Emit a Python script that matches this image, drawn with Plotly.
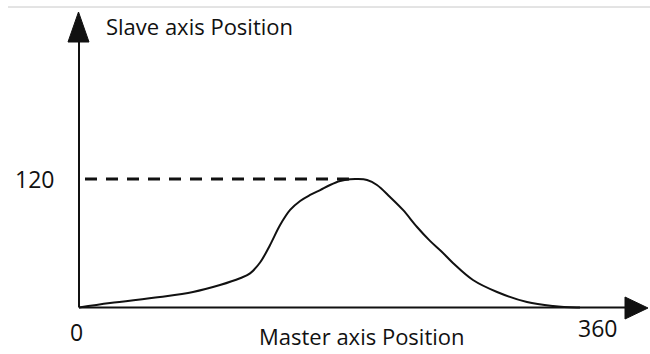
import plotly.graph_objects as go

# Cam profile: slave position against master position (degrees)
master_pos = [0, 22.3, 58.2, 81.9, 101.3, 115.7, 122.9, 130.1, 137.3, 144.5, 151.7,
              158.9, 166.1, 173.3, 180.4, 187.6, 194.8, 200, 207, 214.1, 223.5, 232.8,
              242.9, 252.2, 260.1, 268.7, 283.1, 300.4, 321.9, 340.6, 357.8, 360]
slave_pos = [0, 4.2, 9.8, 14.5, 21.0, 27.3, 31.9, 42.0, 58.4, 77.0, 91.1,
             99.5, 105.1, 109.7, 114.4, 118.1, 119.8, 120, 119, 114.4, 103.2, 91.1,
             75.2, 62.2, 52.8, 41.6, 25.7, 14.5, 5.1, 1.4, 0, 0]

peak_value = 120
peak_master = 200
x_tick_labels = {0: "0", 360: "360"}
y_tick_labels = {120: "120"}
x_title = "Master axis Position"
y_title = "Slave axis Position"

# Canvas geometry (pixels)
W, H = 650, 354
ORIGIN_PX = (79, 307.5)
X_END_PX = 580          # where master = 360 lands
Y_PEAK_PX = 179         # where slave = 120 lands
SX = (X_END_PX - ORIGIN_PX[0]) / 360.0
SY = (ORIGIN_PX[1] - Y_PEAK_PX) / 120.0


def dx(px):
    return (px - ORIGIN_PX[0]) / SX


def dy(py):
    return (ORIGIN_PX[1] - py) / SY


FONT = "Open Sans"
INK = "#111111"

fig = go.Figure()

fig.add_trace(go.Scatter(
    x=master_pos, y=slave_pos, mode="lines",
    line=dict(color=INK, width=2, shape="spline", smoothing=1.0),
    hoverinfo="skip", showlegend=False,
))

# Dashed guide at the peak value
fig.add_trace(go.Scatter(
    x=[dx(85), peak_master - 6], y=[peak_value, peak_value], mode="lines",
    line=dict(color=INK, width=3, dash="12px,9px"),
    hoverinfo="skip", showlegend=False,
))

shapes = [
    # thin rule along the top edge
    dict(type="line", xref="x", yref="y", x0=dx(8), x1=dx(650), y0=dy(7), y1=dy(7),
         line=dict(color="#c8c8c8", width=1)),
    # vertical axis
    dict(type="line", xref="x", yref="y", x0=0, x1=0, y0=0, y1=dy(40),
         line=dict(color=INK, width=2)),
    # horizontal axis
    dict(type="line", xref="x", yref="y", x0=0, x1=dx(626), y0=0, y1=0,
         line=dict(color=INK, width=2)),
    # arrowheads
    dict(type="path", xref="x", yref="y",
         path=f"M {dx(68)},{dy(42)} L {dx(78.5)},{dy(12)} L {dx(89)},{dy(42)} Z",
         fillcolor=INK, line=dict(color=INK, width=1)),
    dict(type="path", xref="x", yref="y",
         path=f"M {dx(625)},{dy(297)} L {dx(648)},{dy(308)} L {dx(625)},{dy(319)} Z",
         fillcolor=INK, line=dict(color=INK, width=1)),
]

annotations = [
    dict(text=y_title, xref="x", yref="y", x=dx(104), y=dy(26), xanchor="left",
         yanchor="middle", showarrow=False, font=dict(family=FONT, size=22, color=INK)),
    dict(text=x_title, xref="x", yref="y", x=dx(257), y=dy(336), xanchor="left",
         yanchor="middle", showarrow=False, font=dict(family=FONT, size=22, color=INK)),
]
for val, lab in x_tick_labels.items():
    shift = -3 if val == 0 else 17
    yshift = -24 if val == 0 else -20
    annotations.append(dict(text=lab, xref="x", yref="y", x=val, y=0, xanchor="center",
                            yanchor="middle", xshift=shift, yshift=yshift, showarrow=False,
                            font=dict(family=FONT, size=23, color=INK)))
for val, lab in y_tick_labels.items():
    annotations.append(dict(text=lab, xref="x", yref="y", x=0, y=val, xanchor="right",
                            yanchor="middle", xshift=-23, showarrow=False,
                            font=dict(family=FONT, size=23, color=INK)))

fig.update_layout(
    width=W, height=H, autosize=False,
    margin=dict(l=0, r=0, t=0, b=0, pad=0),
    paper_bgcolor="white", plot_bgcolor="white",
    xaxis=dict(range=[dx(0), dx(W)], visible=False, fixedrange=True),
    yaxis=dict(range=[dy(H), dy(0)], visible=False, fixedrange=True),
    shapes=shapes, annotations=annotations, showlegend=False,
)

fig.write_html("out.html")
